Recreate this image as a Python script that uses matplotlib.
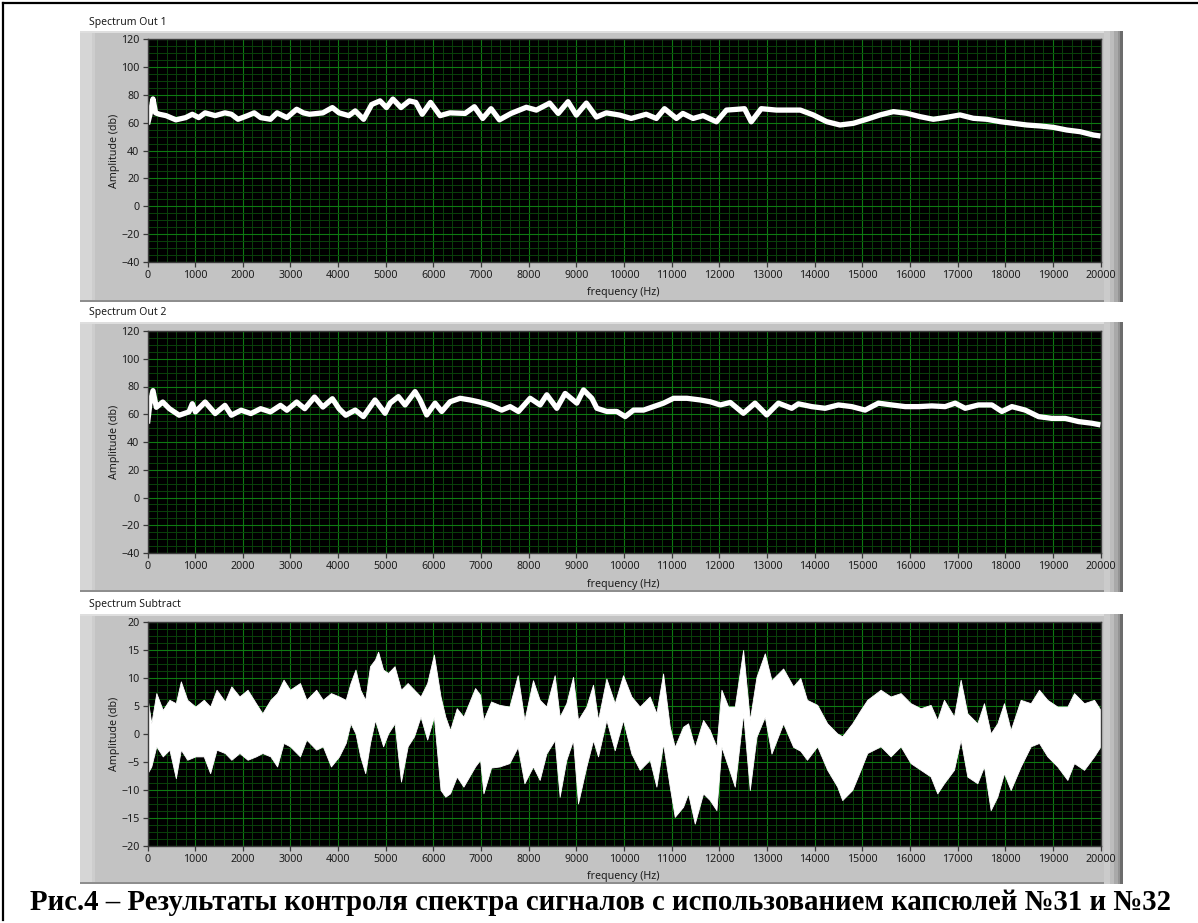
import matplotlib

matplotlib.use("Agg")
import matplotlib.pyplot as plt  # noqa: E402
from matplotlib.lines import Line2D  # noqa: E402
from matplotlib.patches import Rectangle  # noqa: E402
from matplotlib.ticker import MultipleLocator  # noqa: E402

W, H = 1198, 923

# ---- data (Hz, dB) ----
out1_freq = [0, 60, 115, 170, 250, 390, 595, 800, 940, 1075, 1210, 1420, 1625, 1760,
             1900, 2100, 2240, 2375, 2580, 2720, 2925, 3130, 3270, 3400, 3680, 3880,
             4020, 4225, 4360, 4535, 4705, 4880, 5015, 5150, 5320, 5495, 5630, 5765,
             5940, 6140, 6345, 6665, 6860, 7035, 7210, 7385, 7630, 7950, 8160, 8440,
             8620, 8825, 9000, 9210, 9420, 9630, 9910, 10150, 10465, 10680, 10850,
             11100, 11235, 11450, 11660, 11940, 12150, 12355, 12530, 12670, 12880,
             13200, 13480, 13700, 13973, 14253, 14533, 14813, 15093, 15373, 15653,
             15933, 16212, 16492, 16772, 17052, 17332, 17612, 17892, 18172, 18452,
             18732, 19012, 19292, 19572, 19852, 20000]
out1_db = [58.8, 67, 77, 67, 66, 65, 62, 63.6, 66, 63.6, 67, 65, 67, 66,
           62.4, 65, 67, 63.6, 62.4, 67, 63.6, 69.6, 67, 66, 67, 70.8,
           67, 65, 68.4, 62.4, 73, 75.6, 70.8, 76.9, 70.8, 75.6, 74.5, 66,
           74.5, 65, 67, 66.6, 71.4, 63, 70, 62, 66.6, 71, 69, 74,
           66.6, 75, 65.4, 74, 64, 67, 65.4, 63, 66, 63, 70,
           63, 66.6, 63, 65, 60.6, 69, 69.5, 70, 60.6, 70,
           69, 69, 69, 65.5, 60.7, 58.3, 59.5, 62.4, 65.5, 67.9,
           66.7, 64.3, 62.4, 63.8, 65.5, 63.1, 62.4, 60.7, 59.5, 58.3,
           57.6, 56.6, 54.7, 53.5, 51.1, 50.4]

out2_freq = [0, 50, 115, 185, 320, 460, 665, 870, 940, 1005, 1210, 1420, 1625, 1760,
             1965, 2170, 2375, 2580, 2790, 2925, 3130, 3300, 3505, 3680, 3880, 4020,
             4160, 4360, 4530, 4775, 4985, 5090, 5265, 5405, 5615, 5720, 5860, 6035,
             6175, 6350, 6560, 6770, 6945, 7190, 7435, 7610, 7785, 8030, 8240, 8380,
             8590, 8765, 9010, 9150, 9325, 9430, 9640, 9850, 10025, 10200, 10410,
             10620, 10830, 11040, 11320, 11600, 11810, 12020, 12230, 12505, 12750,
             12995, 13240, 13520, 13660, 13940, 14220, 14500, 14780, 15060, 15340,
             15620, 15900, 16180, 16460, 16740, 16950, 17160, 17440, 17720, 17930,
             18140, 18420, 18700, 18980, 19260, 19540, 19820, 20000]
out2_db = [53.3, 67.6, 77, 65, 68.8, 64, 59.3, 61.7, 67.6, 61.7, 68.8, 60.5, 66.4, 59.3,
           62.9, 60.5, 64, 61.7, 66.4, 62.9, 68.8, 64, 72.4, 65.2, 71.2, 64,
           59.3, 63, 58.3, 70.3, 60.7, 68, 72.7, 66.7, 76.3, 70.3, 59.5, 68,
           62, 69, 71.5, 70.3, 69, 66.7, 63, 65.5, 62, 71.5, 66.7, 74,
           64.3, 75, 68, 77.5, 71.5, 64.3, 62, 62, 58.3, 63, 63,
           65.5, 68, 71.5, 71.5, 70.3, 69, 66.7, 68.5, 60.7, 68,
           59.5, 68, 64.3, 67.5, 65.5, 64.3, 66.7, 65.5, 63, 68,
           66.7, 65.5, 65.5, 66, 65.5, 68, 64.3, 66.7, 66.7, 62,
           65.5, 63, 58.3, 57, 57, 54.7, 53.5, 52.3]

sub_freq = [0, 80, 185, 320, 460, 595, 700, 835, 1005, 1180, 1315, 1450, 1625, 1760,
            1930, 2100, 2275, 2410, 2580, 2720, 2855, 2990, 3200, 3335, 3540, 3680,
            3850, 4020, 4160, 4260, 4365, 4465, 4570, 4670, 4775, 4840, 4945, 5050,
            5185, 5320, 5460, 5595, 5730, 5870, 6010, 6150, 6250, 6350, 6490, 6630,
            6875, 6980, 7050, 7210, 7385, 7595, 7770, 7910, 8090, 8230, 8370, 8545,
            8650, 8790, 8930, 9035, 9210, 9350, 9455, 9630, 9805, 9980, 10155, 10330,
            10540, 10680, 10820, 10960, 11065, 11240, 11345, 11485, 11660, 11800,
            11940, 12045, 12185, 12325, 12500, 12640, 12780, 12955, 13095, 13340,
            13550, 13700, 13840, 14055, 14265, 14475, 14580, 14790, 14965, 15105,
            15385, 15595, 15805, 16015, 16225, 16435, 16575, 16715, 16925, 17065,
            17205, 17415, 17555, 17695, 17835, 17975, 18115, 18325, 18535, 18710,
            18885, 19095, 19305, 19445, 19655, 19865, 20000]
sub_upper = [6.4, 1.9, 7.3, 4.3, 6.1, 5.5, 9.4, 6.1, 4.9, 6.1, 4.9, 7.9, 5.8, 8.5,
             6.7, 7.9, 5.5, 3.7, 6.1, 7.3, 9.7, 7.9, 9.1, 6.1, 7.9, 6.1,
             7.3, 6.7, 6.1, 9.1, 11.5, 7.9, 6.1, 12.1, 13.3, 14.7, 11.5, 10.9,
             12.1, 7.9, 9.1, 7.9, 6.7, 9.1, 14.2, 6.7, 3.1, 0.7, 4.6, 3.1,
             8.2, 7.0, 2.5, 5.8, 5.2, 4.9, 10.5, 2.5, 9.6, 6.1, 4.9, 10.5,
             3.1, 5.5, 10.2, 2.5, 4.9, 8.8, 2.5, 9.9, 5.5, 10.5, 6.7, 4.9,
             6.7, 3.7, 10.8, 1.3, -2.3, 1.3, 1.9, -2.3, 2.5, 0.7,
             -2.3, 7.9, 4.9, 4.9, 15.0, 2.5, 10.2, 14.4, 9.6, 11.7,
             8.5, 10.0, 6.1, 5.2, 1.9, 0.1, -0.4, 1.9, 4.3, 6.1,
             7.9, 6.7, 7.3, 5.5, 4.6, 5.2, 2.5, 6.1, 3.1, 9.7,
             3.7, 1.9, 5.5, 0.1, 1.9, 5.5, 0.7, 6.1, 5.5, 7.9,
             6.1, 4.9, 4.9, 7.3, 5.5, 6.1, 4.3]
sub_lower = [-7.0, -5.8, -2.2, -4.0, -2.8, -7.9, -2.8, -4.6, -4.0, -4.0, -7.0, -2.8, -3.4, -4.6,
             -3.4, -4.6, -4.0, -3.4, -4.0, -5.8, -1.6, -2.2, -4.0, -1.0, -2.8, -2.2,
             -5.8, -4.0, -1.6, 1.9, 0.1, -4.0, -7.0, -1.6, 2.5, 0.7, -2.2, 0.1,
             1.9, -8.5, -2.2, -0.4, 3.1, -1.0, 3.1, -10.0, -11.2, -10.6, -7.6, -9.4,
             -5.8, -4.6, -10.6, -6.0, -5.8, -5.2, -2.3, -8.8, -5.8, -8.2, -3.5, -1.1,
             -11.2, -4.6, -1.1, -12.4, -5.8, -1.1, -4.0, 2.5, -2.9, 2.5, -3.5, -6.4,
             -4.6, -9.4, -1.7, -9.4, -14.8, -13.0, -10.6, -16.0, -10.6, -11.8,
             -13.6, -2.3, -5.8, -9.4, 3.7, -10.0, -0.5, 3.1, -3.5, 1.9,
             -2.3, -3.0, -4.6, -2.2, -6.4, -9.4, -11.8, -10.0, -6.4, -3.4,
             -2.2, -4.0, -2.2, -5.2, -6.4, -7.6, -10.6, -8.8, -6.4, -1.0,
             -7.6, -8.8, -5.8, -13.6, -11.2, -7.0, -10.0, -5.8, -2.2, -1.6,
             -4.0, -5.8, -8.2, -5.2, -6.4, -4.0, -2.2]

PANEL_GRAY = "#c3c3c3"
MAJOR_GRID = "#0e7a12"
MINOR_GRID = "#0a420b"
TEXT = "#1c1c1c"
UI_FONT = ["Noto Sans", "DejaVu Sans"]


def fig_rect(x0, y0, x1, y1):
    return (x0 / W, 1 - y1 / H, (x1 - x0) / W, (y1 - y0) / H)


def add_box(fig, x0, y0, x1, y1, color):
    fig.add_artist(Rectangle(fig_rect(x0, y0, x1, y1)[:2], (x1 - x0) / W, (y1 - y0) / H,
                             transform=fig.transFigure, facecolor=color,
                             edgecolor="none", zorder=0))


def draw_panel(fig, title, top, bottom, plot_top, plot_bottom, ylim, ystep, yminor):
    x0, x1 = 80, 1123
    add_box(fig, x0, top, x1, bottom, PANEL_GRAY)
    add_box(fig, x0, top, x0 + 12, bottom, "#d6d6d6")
    add_box(fig, x0 + 12, top, x0 + 15, bottom, "#cdcdcd")
    add_box(fig, x0, top, x1, top + 1.5, "#dedede")
    add_box(fig, x0, bottom - 2, x1, bottom, "#8e8e8e")
    for xa, xb, c in ((1104, 1110, "#cbcbcb"), (1110, 1114, "#bdbdbd"),
                      (1114, 1118, "#a9a9a9"), (1118, 1120, "#949494"),
                      (1120, 1123, "#6c6c6c")):
        add_box(fig, xa, top, xb, bottom, c)

    fig.text(89 / W, 1 - (top - 9) / H, title, fontsize=7.5, color=TEXT,
             family=UI_FONT, va="center", ha="left")

    ax = fig.add_axes(fig_rect(147.5, plot_top, 1100.5, plot_bottom))
    ax.set_facecolor("black")
    ax.set_xlim(0, 20000)
    ax.set_ylim(*ylim)
    ax.xaxis.set_major_locator(MultipleLocator(1000))
    ax.xaxis.set_minor_locator(MultipleLocator(200))
    ax.yaxis.set_major_locator(MultipleLocator(ystep))
    ax.yaxis.set_minor_locator(MultipleLocator(yminor))
    ax.set_axisbelow(True)
    ax.grid(which="minor", color=MINOR_GRID, lw=0.7)
    ax.grid(which="major", color=MAJOR_GRID, lw=0.8)
    ax.tick_params(which="major", direction="out", length=3.6, width=0.9,
                   color="#3a3a3a", labelsize=7.7, labelcolor=TEXT, pad=2.2)
    ax.tick_params(which="minor", length=0)
    for lab in ax.get_xticklabels() + ax.get_yticklabels():
        lab.set_family(UI_FONT)
    for sp in ax.spines.values():
        sp.set_color("#3c3c3c")
        sp.set_linewidth(1.0)

    fig.text(623 / W, 1 - (plot_bottom + 31) / H, "frequency (Hz)", fontsize=7.7,
             color=TEXT, family=UI_FONT, ha="center", va="center")
    fig.text(114 / W, 1 - (plot_top + plot_bottom) / 2 / H, "Amplitude (db)",
             fontsize=7.7, color=TEXT, family=UI_FONT, rotation=90,
             ha="center", va="center")
    return ax


fig = plt.figure(figsize=(W / 100, H / 100), dpi=100)
fig.patch.set_facecolor("white")

ax1 = draw_panel(fig, "Spectrum Out 1", 31, 302, 39, 262, (-40, 120), 20, 5)
ax1.plot(out1_freq, out1_db, color="white", lw=3.8, solid_joinstyle="round",
         solid_capstyle="butt")

ax2 = draw_panel(fig, "Spectrum Out 2", 322, 592, 331, 553, (-40, 120), 20, 5)
ax2.plot(out2_freq, out2_db, color="white", lw=3.8, solid_joinstyle="round",
         solid_capstyle="butt")

ax3 = draw_panel(fig, "Spectrum Subtract", 614, 884, 622, 846, (-20, 20), 5, 1.25)
ax3.fill_between(sub_freq, sub_lower, sub_upper, color="white", lw=0.6,
                 edgecolor="white")

# page frame (top and left rule)
fig.add_artist(Line2D([3 / W, 1], [1 - 3 / H, 1 - 3 / H], color="black", lw=1.6,
                      transform=fig.transFigure))
fig.add_artist(Line2D([3 / W, 3 / W], [1 - 3 / H, 1 - 920 / H], color="black", lw=1.6,
                      transform=fig.transFigure))

fig.text(601 / W, 1 - 903 / H,
         "Рис.4 – Результаты контроля спектра сигналов с использованием капсюлей №31 и №32",
         fontsize=20.7, fontweight="bold", family=["Liberation Serif", "DejaVu Serif"],
         ha="center", va="center", color="black")

fig.savefig("out.png", dpi=100, facecolor="white")
